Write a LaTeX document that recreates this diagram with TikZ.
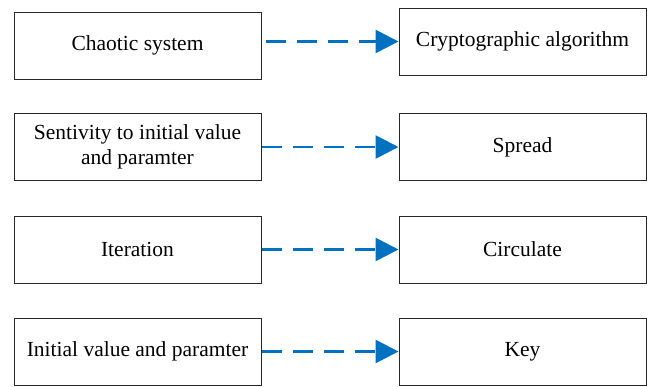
\documentclass[tikz,border=0pt]{standalone}
\usepackage{fontspec}
\setmainfont{Liberation Serif}
\newfontfamily\tnr{Liberation Serif}
\usetikzlibrary{arrows.meta}
\definecolor{arrblue}{RGB}{0,112,192}
\begin{document}
\begin{tikzpicture}[x=1pt,y=-1pt,
  box/.style={draw=black!85,line width=1pt,minimum width=247pt,minimum height=67pt,inner sep=2pt,align=center,font=\tnr\fontsize{21.5}{25}\selectfont},
  conn/.style={draw=arrblue,line width=2.7pt,dash pattern=on 20pt off 11pt,-{Triangle[length=23pt,width=23pt]}}]
\useasboundingbox (0,0) rectangle (652,386);
\node[box] (l1) at (137.5,45.5) {Chaotic system};
\node[box] (l2) at (137.5,147) {Sentivity to initial value\\and paramter};
\node[box] (l3) at (137.5,249.5) {Iteration};
\node[box] (l4) at (137.5,351.5) {Initial value and paramter};
\node[box] (r1) at (522.5,41.5) {Cryptographic algorithm};
\node[box] (r2) at (522.5,147) {Spread};
\node[box] (r3) at (522.5,249.5) {Circulate};
\node[box] (r4) at (522.5,351.5) {Key};
\draw[conn] ([xshift=4pt]l1.east |- r1.west) -- (r1.west);
\draw[conn] (l2.east) -- (r2.west);
\draw[conn] (l3.east) -- (r3.west);
\draw[conn] (l4.east) -- (r4.west);
\end{tikzpicture}
\end{document}
